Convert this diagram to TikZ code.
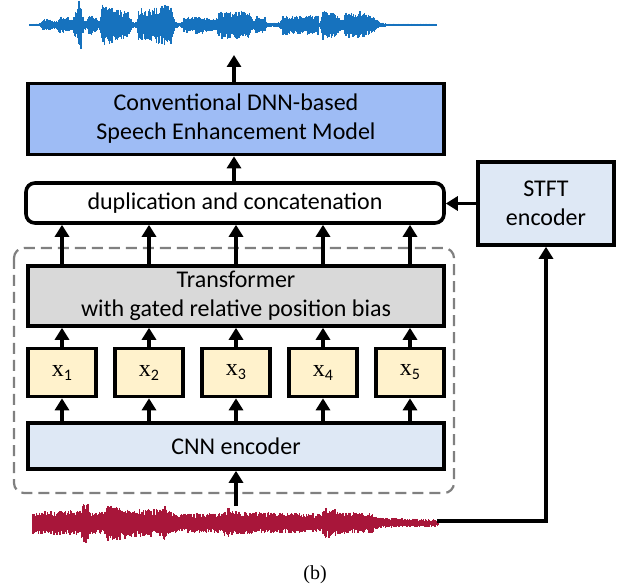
\documentclass[tikz,border=0pt]{standalone}
\usepackage{fontspec}
\setmainfont{Carlito}
\newfontfamily\capfont{Liberation Serif}
\usetikzlibrary{arrows.meta}
\definecolor{dnnblue}{RGB}{158,188,245}
\definecolor{paleblue}{RGB}{222,232,245}
\definecolor{tgray}{RGB}{217,217,217}
\definecolor{xyellow}{RGB}{255,242,204}
\definecolor{wblue}{RGB}{22,114,190}
\definecolor{wred}{RGB}{168,22,58}
% #1 colour, #2 centre y, #3 first x, #4 first amplitude, #5 scale, #6 breakpoints x/amp
\newcommand\drawwaveform[6]{%
  \foreach \xa/\aa [remember=\xa as \xp (initially #3), remember=\aa as \ap (initially #4)] in {#6}{
    \pgfmathtruncatemacro\nn{(\xa-\xp)/0.75}
    \foreach \k in {0,...,\nn}{
      \pgfmathsetmacro\x{\xp+0.75*\k}
      \pgfmathsetmacro\e{#5*(\ap+(\aa-\ap)*\k/max(\nn,1))}
      \pgfmathsetmacro\up{\e*(0.55+0.45*rnd)}
      \pgfmathsetmacro\dn{\e*(0.55+0.45*rnd)}
      \draw[wave, #1] (\x,#2-\up) -- (\x,#2+\dn);
    }
  }}
\begin{document}
\begin{tikzpicture}[x=1pt,y=-1pt,
  blk/.style={draw=black, line width=3.6pt, inner sep=0pt, align=center,
    font=\fontsize{24}{29}\selectfont},
  xbox/.style={blk, fill=xyellow, minimum width=68pt, minimum height=48pt},
  arr/.style={-{Triangle[length=12pt,width=14pt]}, line width=3.4pt},
  wave/.style={line width=1.1pt}]
\useasboundingbox (0,0) rectangle (630,588);

% top (blue) waveform
\pgfmathsetseed{11}
\drawwaveform{wblue}{25}{30}{1}{1.15}{40/1.5, 44/6, 52/5, 56/3, 60/8, 68/7, 72/5, 76/11, 79/23, 81/23, 83/8,
  87/3, 89/9, 96/8, 99/2, 103/18, 112/17, 117/14, 121/13, 128/12, 133/3, 137/3, 139/15, 150/14,
  165/18, 172/16, 175/3, 181/2, 184/7, 200/8, 216/5, 219/12, 230/12, 240/13, 250/11, 253/4, 257/8,
  265/7, 268/2, 277/2, 280/3, 283/9, 300/8, 318/9, 320/2, 323/14, 335/11, 342/5, 346/11, 360/12,
  372/8, 380/3, 387/1.2, 437/1.2}

% bottom (red) waveform
\pgfmathsetseed{5}
\drawwaveform{wred}{523}{33}{8}{1.4}{60/9, 80/9, 84/14, 86/17, 88/14, 90/8, 105/9, 108/13, 125/12,
  130/10, 160/10, 165/13, 168/10, 173/7, 220/7, 225/9, 229/11, 233/9, 247/8, 320/7, 326/11,
  335/10, 340/8, 373/7, 378/4, 438/2.5}

\coordinate (outwave) at (234,55);
\coordinate (inwave) at (236,506);
\coordinate (redend) at (437,521);

% dashed frame
\draw[gray, line width=2.2pt, dash pattern=on 11pt off 6pt, rounded corners=10pt]
  (14,248) rectangle (454,493);

\node[blk, fill=dnnblue, minimum width=416pt, minimum height=71pt] (dnn) at (236,119)
  {Conventional DNN-based\\Speech Enhancement Model};
\node[blk, fill=white, rounded corners=9pt, minimum width=418pt, minimum height=40pt] (dup) at (235,203)
  {duplication and concatenation};
\node[blk, fill=paleblue, minimum width=136pt, minimum height=83pt] (stft) at (546,203.5)
  {STFT\\encoder};
\node[blk, fill=tgray, minimum width=416pt, minimum height=60pt] (trans) at (236,296)
  {Transformer\\with gated relative position bias};
\node[blk, fill=paleblue, minimum width=416pt, minimum height=46pt] (cnn) at (236,446)
  {CNN encoder};
\foreach \n/\cx in {1/62,2/149,3/236,4/323,5/410}{
  \node[xbox] (x\n) at (\cx,372.5) {{\capfont x}\raisebox{-0.35ex}{\fontsize{16}{16}\selectfont\n}};
  \draw[arr] (x\n.north) -- (x\n.north |- trans.south);
  \draw[arr] (x\n.north |- trans.north) -- (x\n.north |- dup.south);
  \draw[arr] (x\n.south |- cnn.north) -- (x\n.south);
}

\draw[arr] (dnn.north -| outwave) -- (outwave);
\draw[arr] (dup.north -| outwave) -- (dnn.south -| outwave);
\draw[arr] (stft.west) -- (dup.east |- stft.west);
\draw[arr] (inwave) -- (cnn.south -| inwave);
\draw[arr] (redend) -| (stft.south);

\node[font=\capfont\fontsize{20}{24}\selectfont] (cap) at (315,575) {(b)};
\end{tikzpicture}
\end{document}
